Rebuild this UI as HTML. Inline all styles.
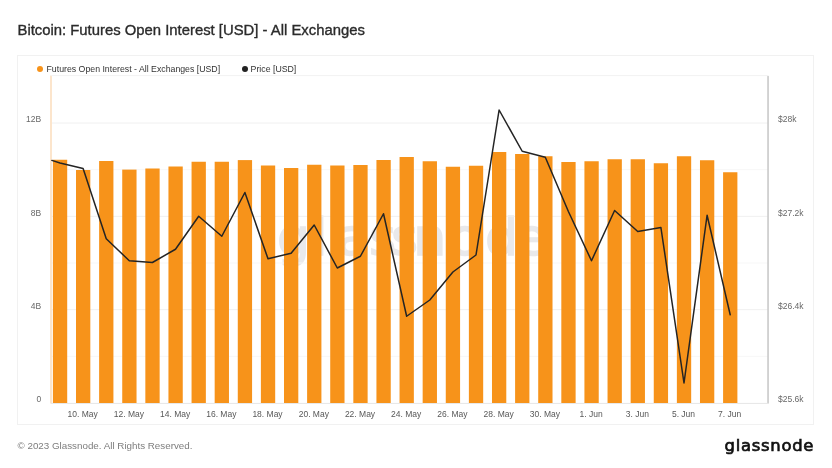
<!DOCTYPE html>
<html><head><meta charset="utf-8"><title>Bitcoin: Futures Open Interest [USD] - All Exchanges</title>
<style>
html,body{margin:0;padding:0;background:#fff;}
body{width:832px;height:468px;overflow:hidden;position:relative;font-family:"Liberation Sans",sans-serif;}
.title{position:absolute;left:17.5px;top:19.8px;font-size:14.85px;line-height:20px;color:#2b2b2b;white-space:nowrap;letter-spacing:0px;-webkit-text-stroke:0.35px #2b2b2b;}
.panel{position:absolute;left:17px;top:55px;width:795px;height:368px;border:1px solid #f1f1f1;box-sizing:content-box;}
.legend{position:absolute;top:62.9px;font-size:8.75px;line-height:12px;color:#333;white-space:nowrap;}
.dot{position:absolute;width:6.5px;height:6.5px;border-radius:50%;}
.footer{position:absolute;left:17.5px;top:440px;font-size:9.8px;line-height:12px;color:#7d7d7d;white-space:nowrap;}
.logo{position:absolute;left:724.6px;top:433.5px;font-family:"DejaVu Sans",sans-serif;font-size:16.45px;letter-spacing:0.7px;line-height:24px;color:#111;white-space:nowrap;-webkit-text-stroke:0.7px #111;}
svg{position:absolute;left:0;top:0;}
svg text{font-family:"Liberation Sans",sans-serif;font-size:8.5px;} svg g.lb{fill:#686868}
</style></head><body>
<div class="title">Bitcoin: Futures Open Interest [USD] - All Exchanges</div>
<div class="panel"></div>
<svg width="832" height="468" viewBox="0 0 832 468">
<text x="277 313 337 369 391 413.3 449 485 515" y="254.5" style="font-family:'DejaVu Sans',sans-serif;font-size:52px;fill:#e9e9eb;stroke:#e9e9eb;stroke-width:1.5px">glassnode</text>
<line x1="52" x2="768" y1="356.33" y2="356.33" stroke="#f7f7f7" stroke-width="1"/><line x1="52" x2="768" y1="263.00" y2="263.00" stroke="#f7f7f7" stroke-width="1"/><line x1="52" x2="768" y1="169.67" y2="169.67" stroke="#f7f7f7" stroke-width="1"/><line x1="52" x2="768" y1="309.67" y2="309.67" stroke="#f0f0f0" stroke-width="1"/><line x1="52" x2="768" y1="216.34" y2="216.34" stroke="#f0f0f0" stroke-width="1"/><line x1="52" x2="768" y1="123.00" y2="123.00" stroke="#f0f0f0" stroke-width="1"/>
<line x1="51" x2="51" y1="75.5" y2="403.5" stroke="#f9cb99" stroke-width="1"/>
<line x1="768.05" x2="768.05" y1="76" y2="403.5" stroke="#c9c9c9" stroke-width="1.6"/>
<line x1="51" x2="768.5" y1="75.6" y2="75.6" stroke="#f2f2f2" stroke-width="1"/>
<line x1="51" x2="768.5" y1="403.4" y2="403.4" stroke="#e6e6e6" stroke-width="1"/>
<g fill="#f7931a"><rect x="52.90" y="159.75" width="14.3" height="243.25"/><rect x="76.01" y="170.00" width="14.3" height="233.00"/><rect x="99.12" y="161.00" width="14.3" height="242.00"/><rect x="122.23" y="169.60" width="14.3" height="233.40"/><rect x="145.34" y="168.50" width="14.3" height="234.50"/><rect x="168.45" y="166.50" width="14.3" height="236.50"/><rect x="191.56" y="161.75" width="14.3" height="241.25"/><rect x="214.67" y="161.75" width="14.3" height="241.25"/><rect x="237.78" y="160.10" width="14.3" height="242.90"/><rect x="260.89" y="165.50" width="14.3" height="237.50"/><rect x="284.00" y="168.00" width="14.3" height="235.00"/><rect x="307.11" y="164.75" width="14.3" height="238.25"/><rect x="330.22" y="165.50" width="14.3" height="237.50"/><rect x="353.33" y="165.00" width="14.3" height="238.00"/><rect x="376.44" y="160.00" width="14.3" height="243.00"/><rect x="399.55" y="157.00" width="14.3" height="246.00"/><rect x="422.66" y="161.25" width="14.3" height="241.75"/><rect x="445.77" y="166.75" width="14.3" height="236.25"/><rect x="468.88" y="165.75" width="14.3" height="237.25"/><rect x="491.99" y="152.00" width="14.3" height="251.00"/><rect x="515.10" y="154.00" width="14.3" height="249.00"/><rect x="538.21" y="156.25" width="14.3" height="246.75"/><rect x="561.32" y="162.00" width="14.3" height="241.00"/><rect x="584.43" y="161.25" width="14.3" height="241.75"/><rect x="607.54" y="159.25" width="14.3" height="243.75"/><rect x="630.65" y="159.25" width="14.3" height="243.75"/><rect x="653.76" y="163.25" width="14.3" height="239.75"/><rect x="676.87" y="156.25" width="14.3" height="246.75"/><rect x="699.98" y="160.25" width="14.3" height="242.75"/><rect x="723.09" y="172.25" width="14.3" height="230.75"/></g>
<polyline points="51.9,160.4 60,163 83.1,168.4 106.25,238.75 129.3,260.75 152.4,262.5 175.5,249.25 198.7,216.25 221.8,236.25 244.9,192.5 268,258.75 291.1,253.25 314.2,225 337.3,268 360.4,256.25 383.5,213.75 406.65,316.25 429.8,300 452.9,272 476,255 499.1,110 522.2,151.25 545.3,157.25 568.4,211.5 591.5,260.75 614.6,210.5 637.75,231.5 660.9,227.5 684,383 707.1,215.25 730.2,314.75" fill="none" stroke="#242424" stroke-width="1.5" stroke-linejoin="round" stroke-linecap="round"/>
<g style="fill:#585858"><text x="82.7" y="416.8" text-anchor="middle">10. May</text><text x="128.9" y="416.8" text-anchor="middle">12. May</text><text x="175.1" y="416.8" text-anchor="middle">14. May</text><text x="221.3" y="416.8" text-anchor="middle">16. May</text><text x="267.5" y="416.8" text-anchor="middle">18. May</text><text x="313.8" y="416.8" text-anchor="middle">20. May</text><text x="360.0" y="416.8" text-anchor="middle">22. May</text><text x="406.2" y="416.8" text-anchor="middle">24. May</text><text x="452.4" y="416.8" text-anchor="middle">26. May</text><text x="498.6" y="416.8" text-anchor="middle">28. May</text><text x="544.9" y="416.8" text-anchor="middle">30. May</text><text x="591.1" y="416.8" text-anchor="middle">1. Jun</text><text x="637.3" y="416.8" text-anchor="middle">3. Jun</text><text x="683.5" y="416.8" text-anchor="middle">5. Jun</text><text x="729.7" y="416.8" text-anchor="middle">7. Jun</text></g><g class="lb"><text x="41.2" y="122.2" text-anchor="end">12B</text><text x="41.2" y="215.5" text-anchor="end">8B</text><text x="41.2" y="308.9" text-anchor="end">4B</text><text x="41.2" y="402.2" text-anchor="end">0</text></g><g class="lb"><text x="778" y="122.2">$28k</text><text x="778" y="215.5">$27.2k</text><text x="778" y="308.9">$26.4k</text><text x="778" y="402.2">$25.6k</text></g>
</svg>
<div class="dot" style="left:36.8px;top:65.5px;background:#f7931a"></div>
<div class="legend" style="left:46.5px">Futures Open Interest - All Exchanges [USD]</div>
<div class="dot" style="left:241.5px;top:65.5px;background:#222"></div>
<div class="legend" style="left:250.6px">Price [USD]</div>
<div class="footer">© 2023 Glassnode. All Rights Reserved.</div>
<div class="logo">glassnode</div>
</body></html>
